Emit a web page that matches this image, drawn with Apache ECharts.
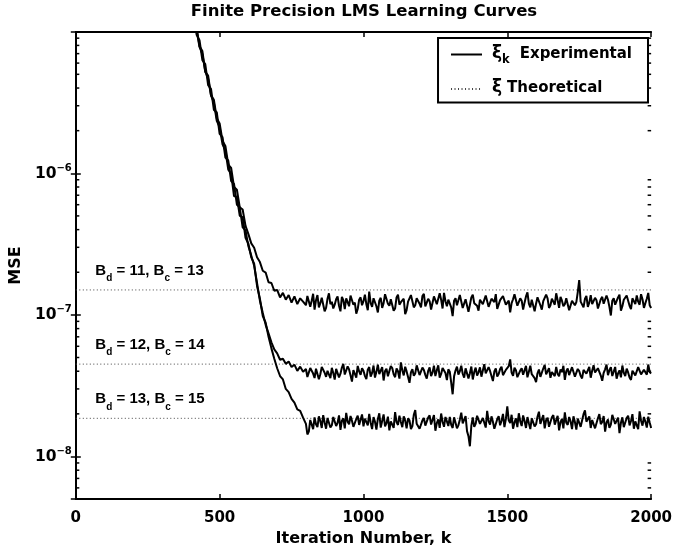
<!DOCTYPE html>
<html>
<head>
<meta charset="utf-8">
<script src="https://cdn.jsdelivr.net/npm/echarts@6/dist/echarts.min.js"></script>
<style>html,body{margin:0;padding:0;background:#fff}#chart{width:675px;height:552px}</style>
</head>
<body>
<div id="chart"></div>
<script>
// ---------------- data ----------------
const NANO = 1e-9;                 // all MSE values below are in units of 1e-9
const transStart = 400, transStep = 10;    // transient samples: k = 400..790
const steadyStart = 800, steadyStep = 5;   // steady-state samples: k = 800..2000

// Bd = 11, Bc = 13
const expA_trans = [15900,11600,10700,7900,7300,5200,4900,3550,3300,2450,2250,1690,1560,1150,1090,800,765,575,555,425,
  372,320,298,255,236,205,199,170,168,148,150,133,143,128,138,122,135,119,131,124];
const expA_steady = [
  117,136,133,114,126,141,109,127,138,113,121,132,129,106,112,130,142,119,124,111,
  118,129,135,116,106,134,127,110,131,123,115,137,140,118,122,102,110,128,133,117,
  125,139,119,108,146,121,114,131,128,115,104,126,132,112,121,140,137,120,116,129,
  126,107,111,133,139,118,123,127,130,101,108,124,127,138,135,113,117,131,129,120,
  113,136,141,115,122,130,125,109,110,135,134,119,119,142,128,111,143,125,115,128,
  124,113,98,126,131,117,120,138,136,112,112,129,127,105,118,133,139,121,124,116,
  107,128,130,119,121,137,133,114,116,130,128,123,140,110,111,127,125,136,132,118,
  119,126,104,121,129,140,137,116,115,131,126,109,122,135,144,120,113,128,127,106,
  120,133,135,117,109,125,128,139,131,112,117,130,124,118,142,127,112,134,126,115,
  119,131,133,108,106,126,129,117,123,145,176,124,121,113,130,136,114,122,138,119,
  118,132,127,111,109,129,134,120,122,137,128,114,99,126,131,118,120,133,139,107,
  115,128,126,137,133,116,110,131,125,119,137,124,118,140,129,112,121,130,143,117,
  112];
// Bd = 12, Bc = 14
const expB_trans = [14100,13000,9500,8700,6300,5900,4200,3950,2800,2700,1900,1800,1290,1230,880,840,600,575,415,395,
  305,262,222,168,126,103,85,74,64,57,53.5,48.2,49.0,45.1,46.8,42.9,44.5,40.2,43.1,39.6];
const expB_steady = [
  41.5,36.4,37.2,42.1,43.0,38.5,35.8,41.7,40.6,35.1,38.1,42.9,44.2,39.0,36.5,40.3,39.8,35.7,42.3,38.9,
  34.9,41.6,40.9,36.2,38.4,42.5,45.1,37.9,36.9,43.3,41.2,37.4,33.8,40.8,39.5,36.0,43.6,39.9,37.7,42.0,
  40.3,37.1,35.2,41.0,42.8,36.6,38.9,43.9,36.1,39.6,44.5,38.2,39.2,42.7,34.4,40.1,41.7,36.8,38.0,43.5,
  42.1,38.0,36.3,41.9,40.0,35.5,46.2,40.7,37.4,43.0,39.9,36.4,33.1,39.3,41.4,37.2,38.6,44.0,43.3,37.6,
  36.7,42.4,40.8,37.7,35.5,40.2,42.6,36.9,39.1,43.8,37.0,40.6,44.0,36.1,38.3,42.2,41.0,38.8,34.6,41.3,
  39.7,33.2,27.5,36.8,40.4,43.1,37.9,40.0,43.8,38.4,36.0,41.9,41.6,35.6,38.7,43.2,35.0,39.4,42.4,37.3,
  39.3,42.6,36.6,40.5,44.8,38.6,37.8,42.8,40.2,37.0,34.1,39.8,41.9,36.7,38.2,41.4,43.1,37.5,36.4,40.9,
  39.6,43.4,48.5,39.1,37.1,42.3,40.7,36.3,35.3,40.4,42.0,37.8,38.8,43.6,36.2,39.7,43.7,38.1,39.0,35.8,
  33.5,38.7,41.1,36.5,37.6,41.8,44.3,38.0,38.5,42.1,35.9,39.5,40.5,36.9,42.9,38.3,36.8,41.2,39.4,43.7,
  34.8,40.0,41.8,37.6,38.1,42.7,43.4,36.6,37.3,41.5,40.1,37.1,35.6,40.9,42.2,38.4,39.0,43.0,36.0,40.3,
  44.1,39.2,38.4,42.0,40.9,37.3,34.2,39.0,41.3,44.6,37.5,40.7,42.7,37.0,39.8,42.9,35.4,38.6,40.6,36.2,
  43.9,38.9,37.0,41.7,39.2,36.1,34.7,40.3,41.5,37.4,38.3,42.8,42.5,38.0,36.9,41.0,40.0,37.8,44.6,39.5,
  38.6];
// Bd = 13, Bc = 15
const expC_trans = [15400,11800,10300,7800,6950,5250,4650,3550,3150,2350,2120,1600,1450,1060,995,690,680,500,490,350,
  318,255,230,160,130,98,88,70,58,49,42,37,35,30,28.5,25.5,24,21.5,21,18.8];
const expC_steady = [
  17.0,14.3,15.0,18.1,16.8,15.6,18.9,16.9,16.1,19.2,17.8,15.9,19.6,17.4,15.7,18.7,18.2,16.0,16.6,19.0,
  19.1,16.4,17.3,19.5,15.4,17.9,18.6,15.8,20.3,17.6,16.9,19.3,17.9,16.2,15.9,18.4,19.4,16.7,17.1,19.8,
  16.3,18.5,18.8,16.6,20.0,17.3,15.6,19.0,17.6,15.5,18.4,20.2,16.0,17.8,19.8,16.3,17.2,19.1,15.3,17.7,
  18.1,15.9,20.6,17.5,16.7,19.4,17.5,16.1,19.2,17.9,15.8,18.6,18.0,15.6,16.4,19.7,21.3,17.0,17.4,15.7,
  15.5,18.0,18.7,16.5,16.9,18.8,19.5,16.8,17.0,19.6,15.2,17.2,18.3,15.9,20.1,17.6,16.2,19.0,17.7,16.4,
  19.0,16.7,15.9,18.9,18.5,15.8,16.6,18.2,20.4,17.1,17.3,19.3,15.1,13.9,11.8,16.5,18.9,16.2,17.0,19.4,
  19.7,17.0,16.5,18.7,18.2,16.0,21.0,17.8,16.8,19.2,17.6,15.7,15.4,18.3,19.3,16.6,17.9,20.0,16.1,18.4,
  22.6,18.0,17.2,19.7,15.7,17.4,18.6,16.1,20.2,17.7,16.4,19.5,17.8,15.9,19.0,17.2,15.6,18.6,18.1,16.3,
  16.9,19.1,20.7,17.0,17.4,19.6,15.8,18.1,18.8,16.2,16.3,18.9,19.6,16.8,17.1,19.4,15.3,17.5,18.4,15.8,
  20.5,17.3,16.7,19.0,17.7,15.6,19.2,17.5,15.5,18.5,18.0,16.2,16.6,19.9,21.2,17.6,17.3,19.2,15.9,18.1,
  18.5,15.8,16.2,18.6,19.9,16.9,17.5,19.3,15.0,17.4,18.3,15.9,16.8,19.7,20.3,17.0,17.2,18.8,14.6,17.3,
  18.9,16.1,16.4,18.7,19.4,16.6,17.8,19.9,15.7,17.7,18.2,15.6,20.8,17.9,16.5,19.0,17.6,16.0,19.1,17.4,
  15.9];

const theoLevels = [150, 44.9, 18.6];       // theoretical steady-state MSE (x1e-9)
const bdBits = [11, 12, 13];
const bcBits = [13, 14, 15];
const annotIter = 68;                       // iteration where the labels start

const xMin = 0, xMax = 2000, xInterval = 500;
const yMin = 5e-9, yMax = 9.95e-6;
const minorMantissas = [2, 3, 4, 5, 6, 7, 8, 9];
const minorDecades = [-9, -8, -7, -6];

// ---------------- build ----------------
const toPairs = (trans, steady) =>
  trans.map((v, i) => [transStart + i * transStep, v * NANO])
    .concat(steady.map((v, i) => [steadyStart + i * steadyStep, v * NANO]));
const minorTickVals = [];
minorDecades.forEach(d => minorMantissas.forEach(m => {
  const v = m * Math.pow(10, d);
  if (v > yMin && v < yMax) minorTickVals.push(v);
}));

const FDV = '"DejaVu Sans", sans-serif';
const FLS = '"Liberation Sans", Arial, sans-serif';

function powLabel(v) {
  const e = Math.log10(v);
  const r = Math.round(e);
  if (Math.abs(e - r) > 1e-6) return '';
  return '{b|10}{e|' + (r < 0 ? '\u2212' + (-r) : r) + '}';
}

const expSeries = [[expA_trans, expA_steady], [expB_trans, expB_steady], [expC_trans, expC_steady]].map(p => ({
  type: 'line', name: 'Experimental', data: toPairs(p[0], p[1]),
  symbol: 'none', showSymbol: false, silent: true, z: 3,
  itemStyle: { color: '#000' },
  lineStyle: { color: '#000', width: 2 }
}));
const theoSeries = theoLevels.map(v => ({
  type: 'line', name: 'Theoretical', data: [[xMin, v * NANO], [xMax, v * NANO]],
  symbol: 'none', showSymbol: false, silent: true, z: 2,
  itemStyle: { color: '#444' },
  lineStyle: { color: '#444', width: 1, type: [1, 2.5] }
}));

const annotSeries = {
  type: 'scatter', name: 'annot', silent: true, symbolSize: 0, z: 4,
  itemStyle: { color: '#000', opacity: 1 },
  data: theoLevels.map((v, i) => [annotIter, v * NANO,
    '{m|B}{s|d}{m| = ' + bdBits[i] + ', B}{s|c}{m| = ' + bcBits[i] + '}']),
  label: {
    show: true, position: 'right', distance: 0, offset: [0, -15], opacity: 1,
    formatter: p => p.data[2], color: '#000',
    rich: {
      m: { fontFamily: FLS, fontWeight: 'bold', fontSize: 15, lineHeight: 24, verticalAlign: 'top', color: '#000' },
      s: { fontFamily: FLS, fontWeight: 'bold', fontSize: 10, lineHeight: 24, verticalAlign: 'top', padding: [10.5, 0, 0, 0], color: '#000' }
    }
  }
};

const minorTickSeries = {
  type: 'custom', name: 'minorTicks', silent: true, clip: false, z: 10,
  data: minorTickVals.map(v => [xMin, v]),
  encode: { x: 0, y: 1 },
  renderItem: (params, api) => {
    const v = api.value(1);
    const l = api.coord([xMin, v]);
    const r = api.coord([xMax, v]);
    return { type: 'group', children: [
      { type: 'line', shape: { x1: l[0], y1: l[1], x2: l[0] + 3.5, y2: l[1] }, style: { stroke: '#000', lineWidth: 1.5 } },
      { type: 'line', shape: { x1: r[0] - 3.5, y1: r[1], x2: r[0], y2: r[1] }, style: { stroke: '#000', lineWidth: 1.5 } }
    ] };
  }
};

const axisLineStyle = { color: '#000', width: 2 };
const tickStyle = { color: '#000', width: 1.5 };

const option = {
  animation: false,
  backgroundColor: '#fff',
  title: {
    text: 'Finite Precision LMS Learning Curves',
    left: 364, top: 3, textAlign: 'center', padding: 0,
    textStyle: { fontFamily: FDV, fontWeight: 'bold', fontSize: 16.5, color: '#000' }
  },
  grid: { left: 73, right: 22, top: 32, bottom: 52, containLabel: false },
  legend: {
    data: ['Experimental', 'Theoretical'],
    orient: 'vertical', right: 27, top: 38,
    padding: [7, 16, 6, 12],
    itemGap: 13, itemWidth: 31, itemHeight: 14,
    borderColor: '#000', borderWidth: 2, backgroundColor: '#fff',
    selectedMode: false,
    itemStyle: { opacity: 0 },
    formatter: name => name === 'Experimental'
      ? '{x|\u03be}{k|k}{e|Experimental}'
      : '{x|\u03be}{t|Theoretical}',
    textStyle: {
      color: '#000', fontFamily: FDV, fontWeight: 'bold', fontSize: 15,
      rich: {
        x: { fontFamily: FDV, fontSize: 17, lineHeight: 18, verticalAlign: 'top', padding: [-0.5, 0, 0, 5], color: '#000' },
        k: { fontFamily: FDV, fontWeight: 'bold', fontSize: 11.5, lineHeight: 18, verticalAlign: 'top', padding: [9, 0, 0, 0], color: '#000' },
        e: { fontFamily: FDV, fontWeight: 'bold', fontSize: 15, lineHeight: 18, verticalAlign: 'top', padding: [1, 0, 0, 10], color: '#000' },
        t: { fontFamily: FDV, fontWeight: 'bold', fontSize: 15, lineHeight: 18, verticalAlign: 'top', padding: [1, 0, 0, 5], color: '#000' }
      }
    }
  },
  xAxis: [{
    type: 'value', min: xMin, max: xMax, interval: xInterval, position: 'bottom',
    name: 'Iteration Number, k', nameLocation: 'middle', nameGap: 27,
    nameTextStyle: { fontFamily: FDV, fontWeight: 'bold', fontSize: 16, color: '#000' },
    axisLine: { onZero: false, lineStyle: axisLineStyle },
    axisTick: { inside: true, length: 5, lineStyle: tickStyle },
    axisLabel: { margin: 12, formatter: v => String(v), fontFamily: FDV, fontWeight: 'bold', fontSize: 15, color: '#000' },
    splitLine: { show: false }
  }, {
    type: 'value', min: xMin, max: xMax, interval: xInterval, position: 'top',
    axisLine: { onZero: false, lineStyle: axisLineStyle },
    axisTick: { inside: true, length: 5, lineStyle: tickStyle },
    axisLabel: { show: false },
    splitLine: { show: false }
  }],
  yAxis: [{
    type: 'log', logBase: 10, min: yMin, max: yMax, position: 'left',
    name: 'MSE', nameLocation: 'middle', nameGap: 34,
    nameTextStyle: { fontFamily: FDV, fontWeight: 'bold', fontSize: 16, color: '#000' },
    axisLine: { lineStyle: axisLineStyle },
    axisTick: { inside: true, length: 5, lineStyle: tickStyle },
    axisLabel: {
      margin: 4, formatter: powLabel, color: '#000',
      rich: {
        b: { fontFamily: FDV, fontWeight: 'bold', fontSize: 15.5, lineHeight: 20, verticalAlign: 'top', padding: [2.5, 0, 0, 0], color: '#000' },
        e: { fontFamily: FDV, fontWeight: 'bold', fontSize: 10, lineHeight: 20, verticalAlign: 'top', color: '#000' }
      }
    },
    splitLine: { show: false }
  }, {
    type: 'log', logBase: 10, min: yMin, max: yMax, position: 'right',
    axisLine: { lineStyle: axisLineStyle },
    axisTick: { inside: true, length: 5, lineStyle: tickStyle },
    axisLabel: { show: false },
    splitLine: { show: false }
  }],
  series: [...theoSeries, ...expSeries, annotSeries, minorTickSeries]
};

const chart = echarts.init(document.getElementById('chart'), null, { renderer: 'canvas' });
chart.setOption(option);
</script>
</body>
</html>
